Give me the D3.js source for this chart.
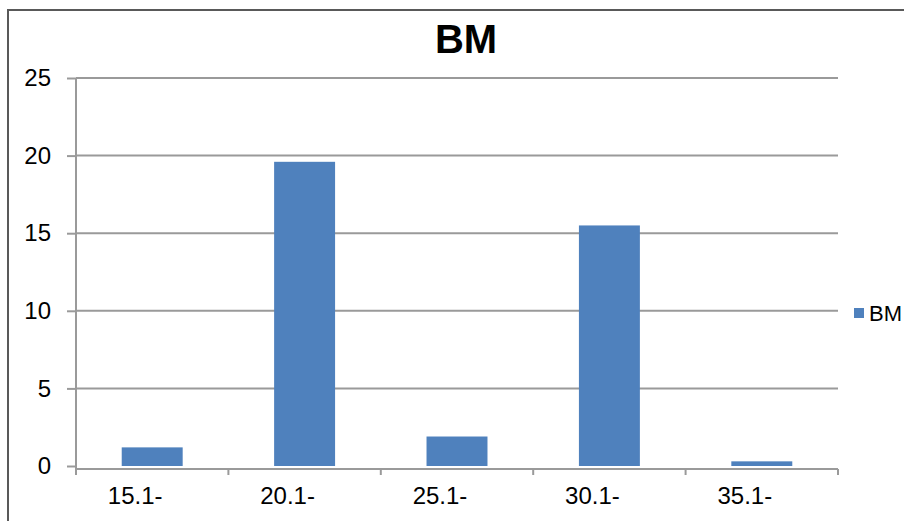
<!DOCTYPE html>
<html>
<head>
<meta charset="utf-8">
<script src="https://cdn.jsdelivr.net/npm/d3@7"></script>
<style>
  html, body { margin: 0; padding: 0; background: #fff; }
  svg { display: block; }
  text { font-family: "Liberation Sans", Arial, sans-serif; }
</style>
</head>
<body>
<svg id="chart" width="904" height="521"></svg>
<script>
const categories = ["15.1-", "20.1-", "25.1-", "30.1-", "35.1-"];
const seriesName = "BM";
const values = [1.2, 19.6, 1.9, 15.5, 0.3];
const yTicks = [0, 5, 10, 15, 20, 25];
const chartTitle = "BM";

(function () {
const svg = d3.select("#chart");
const W = 904, H = 521;
const pLeft = 76, pRight = 838, pTop = 78, pBottom = 466;

// outer border
svg.append("rect").attr("x", 8).attr("y", 10).attr("width", W + 10).attr("height", H + 10)
  .attr("fill", "#fff").attr("stroke", "#595959").attr("stroke-width", 2);

const x = d3.scaleBand().domain(categories).range([pLeft, pRight]).paddingInner(0.6).paddingOuter(0.3);
const y = d3.scaleLinear().domain([0, 25]).range([pBottom, pTop]);

// gridlines
svg.append("g").selectAll("line").data(yTicks.filter(d => d > 0)).join("line")
  .attr("x1", pLeft).attr("x2", pRight)
  .attr("y1", d => y(d)).attr("y2", d => y(d))
  .attr("stroke", "#9a9a9a").attr("stroke-width", 2);

// y axis
const yAxis = svg.append("g").attr("transform", `translate(${pLeft},0)`)
  .call(d3.axisLeft(y).tickValues(yTicks).tickSize(9).tickPadding(16).tickFormat(d3.format("d")));
yAxis.select(".domain").attr("stroke", "#9a9a9a").attr("stroke-width", 2)
  .attr("d", `M0,${pTop}V${pBottom + 3}`);
yAxis.selectAll(".tick line").attr("stroke", "#9a9a9a").attr("stroke-width", 2);
yAxis.selectAll(".tick text").attr("font-size", 24).attr("fill", "#000")
  .attr("font-family", "Liberation Sans, Arial, sans-serif");

// bars
svg.append("g").selectAll("rect").data(values).join("rect")
  .attr("x", (d, i) => x(categories[i]))
  .attr("y", d => y(d))
  .attr("width", x.bandwidth())
  .attr("height", d => y(0) - y(d))
  .attr("fill", "#4f81bd");

// x axis (slightly below zero line as in reference)
const xAxisG = svg.append("g").attr("transform", `translate(0,${pBottom + 3})`)
  .call(d3.axisBottom(x).tickSize(0).tickPadding(18));
xAxisG.select(".domain").attr("stroke", "#9a9a9a").attr("stroke-width", 2)
  .attr("d", `M${pLeft},0H${pRight}`);
xAxisG.selectAll(".tick text").attr("font-size", 24).attr("fill", "#000")
  .attr("dx", -17)
  .attr("font-family", "Liberation Sans, Arial, sans-serif");

// category boundary ticks
const boundaries = d3.range(categories.length + 1).map(i => pLeft + i * x.step());
svg.append("g").selectAll("line").data(boundaries).join("line")
  .attr("x1", d => d).attr("x2", d => d)
  .attr("y1", pBottom + 3).attr("y2", pBottom + 9)
  .attr("stroke", "#9a9a9a").attr("stroke-width", 2);

// title
svg.append("text").attr("x", 466).attr("y", 53).attr("text-anchor", "middle")
  .attr("font-size", 40).attr("font-weight", "bold").attr("fill", "#000").text(chartTitle);

// legend
svg.append("rect").attr("x", 854).attr("y", 308).attr("width", 10).attr("height", 10).attr("fill", "#4f81bd");
svg.append("text").attr("x", 869).attr("y", 321).attr("font-size", 22).attr("fill", "#000").text(seriesName);
})();
</script>
</body>
</html>
